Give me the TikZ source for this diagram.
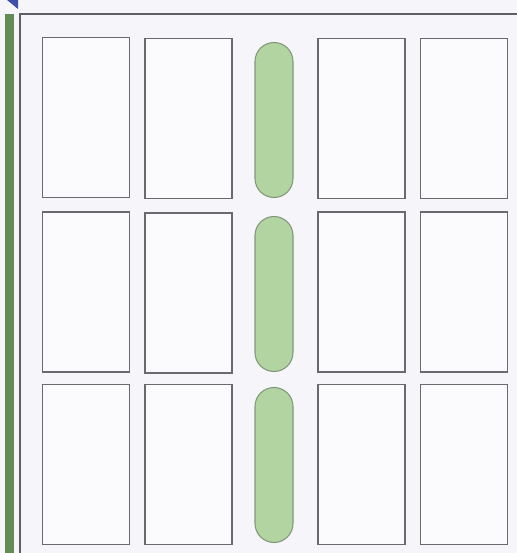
\documentclass[tikz,border=0pt]{standalone}
\usepackage{tikz}
\usetikzlibrary{arrows.meta,positioning,shapes.misc}
\definecolor{paper}{RGB}{246,245,250}
\definecolor{frameline}{RGB}{95,95,100}
\definecolor{cellline}{RGB}{105,105,110}
\definecolor{pillgreen}{RGB}{178,212,160}
\definecolor{pillline}{RGB}{130,150,125}
\definecolor{bargreen}{RGB}{98,140,84}
\definecolor{cornerblue}{RGB}{60,80,170}

\begin{document}
\begin{tikzpicture}[
  cell/.style={draw=cellline, line width=1pt, fill=white!60!paper, minimum width=1.74cm, minimum height=3.2cm, inner sep=0pt},
  slot/.style={rounded rectangle, rounded rectangle arc length=180, rotate=90, draw=pillline, line width=0.6pt, fill=pillgreen, minimum width=3.1cm, minimum height=0.76cm, inner sep=0pt}
]
  % Background and frame
  \fill[paper] (0,0) rectangle (10.34,-11.06);
  \useasboundingbox (0,0) rectangle (10.34,-11.06);
  \fill[bargreen] (0.10,-0.28) rectangle (0.28,-11.06);
  \fill[cornerblue] (0.14,0) -- (0.36,0) -- (0.36,-0.18) -- cycle;
  \coordinate (fb) at (0.40,-11.06);
  \coordinate (fc) at (0.40,-0.28);
  \coordinate (fr) at (10.34,-0.28);
  \draw[frameline, line width=1.4pt] (fb) -- (fc) -- (fr);

  % Row 1
  \node[cell] (c11) at (1.72,-2.35) {};
  \node[cell] (c12) at (3.77,-2.37) {};
  \node[cell] (c14) at (7.23,-2.37) {};
  \node[cell] (c15) at (9.28,-2.37) {};

  % Row 2
  \node[cell] (c21) at (1.72,-5.84) {};
  \node[cell] (c22) at (3.77,-5.86) {};
  \node[cell] (c24) at (7.23,-5.84) {};
  \node[cell] (c25) at (9.28,-5.84) {};

  % Row 3
  \node[cell] (c31) at (1.72,-9.29) {};
  \node[cell] (c32) at (3.77,-9.29) {};
  \node[cell] (c34) at (7.23,-9.29) {};
  \node[cell] (c35) at (9.28,-9.29) {};

  % Green slots
  \node[slot] (s1) at (5.48,-2.40) {};
  \node[slot] (s2) at (5.48,-5.88) {};
  \node[slot] (s3) at (5.48,-9.30) {};
\end{tikzpicture}
\end{document}
